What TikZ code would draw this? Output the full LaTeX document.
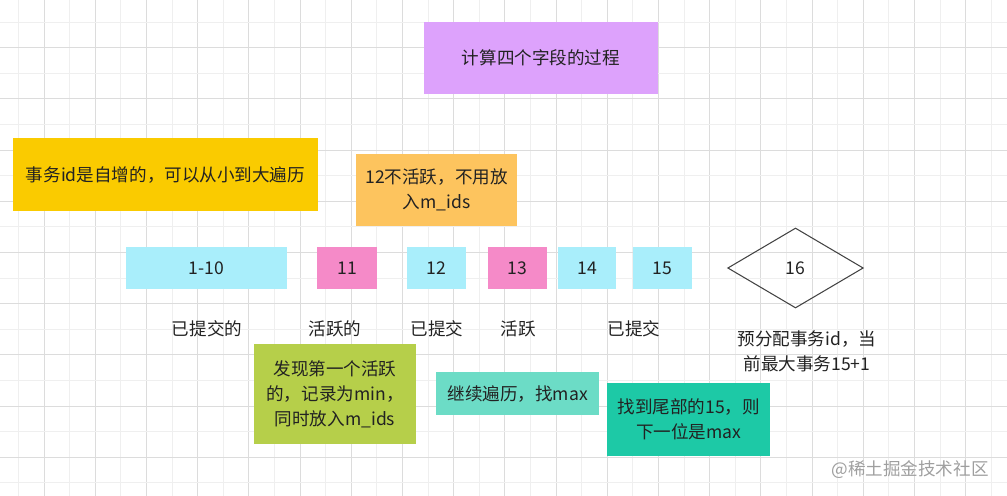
\documentclass[tikz,border=0pt]{standalone}
\usepackage{fontspec}
\setmainfont{Noto Sans CJK SC}
\usetikzlibrary{shapes.geometric}

% colours picked from the board
\definecolor{gridminor}{HTML}{EFEFEF}
\definecolor{gridmajor}{HTML}{DCDCDC}
\definecolor{titlepurple}{HTML}{DDA2FC}
\definecolor{noteyellow}{HTML}{FACB00}
\definecolor{noteorange}{HTML}{FDC45E}
\definecolor{donecyan}{HTML}{A9EEFB}
\definecolor{activepink}{HTML}{F58AC8}
\definecolor{noteolive}{HTML}{B6CF4A}
\definecolor{noteaqua}{HTML}{6CDCC6}
\definecolor{noteteal}{HTML}{1DC9A6}
\definecolor{inkgray}{HTML}{222222}

\begin{document}
\begin{tikzpicture}[x=0.02cm,y=-0.02cm,
  font=\fontsize{10}{14.2}\selectfont,
  card/.style n args={3}{fill=#1, text=inkgray, align=center, inner sep=0pt,
    minimum width=#2*0.02cm, minimum height=#3*0.02cm},
  status/.style={text=inkgray, inner sep=0pt}]

% Canvas in pixels of the board (1007 x 496), y runs downwards
\useasboundingbox (0,0) rectangle (1007,496);

% --- Background grid ---
\foreach \k in {0,...,19} {
  \draw[gridminor, line width=0.5pt] ({18.4+51.2*\k},0) -- ++(0,496);
}
\foreach \k in {0,...,18} {
  \draw[gridmajor, line width=0.5pt] ({44+51.2*\k},0) -- ++(0,496);
}
\foreach \k in {0,...,9} {
  \draw[gridminor, line width=0.5pt] (0,{22.1+51.2*\k}) -- ++(1007,0);
}
\foreach \k in {0,...,8} {
  \draw[gridmajor, line width=0.5pt] (0,{47.7+51.2*\k}) -- ++(1007,0);
}

% --- Title and notes above the row ---
\node[card={titlepurple}{234}{72}] (title) at (541,58) {计算四个字段的过程};
\node[card={noteyellow}{305.6}{72.7}] (noteOrder) at (165.5,174.7)
  {事务id是自增的，可以从小到大遍历};
\node[card={noteorange}{161}{72}] (noteSkip) at (436.5,190)
  {12不活跃，不用放\\入m\_ids};

% --- Transaction id row ---
\node[card={donecyan}{161.6}{42.3}] (id1to10) at (206.5,268) {1-10};
\node[card={activepink}{60}{42.3}] (id11) at (347,268) {11};
\node[card={donecyan}{59}{42.3}] (id12) at (436.5,268) {12};
\node[card={activepink}{59}{42.3}] (id13) at (517.5,268) {13};
\node[card={donecyan}{58}{42.3}] (id14) at (587,268) {14};
\node[card={donecyan}{59}{42.3}] (id15) at (662.5,268) {15};
\node[diamond, draw=inkgray!85, line width=0.6pt, text=inkgray, inner sep=0pt,
  minimum width=135.6*0.02cm, minimum height=80*0.02cm] (id16) at (795.5,268) {16};

% --- Status under each id ---
\node[status] (st1to10) at (207,329) {已提交的};
\node[status] (st11) at (335,329) {活跃的};
\node[status] (st12) at (437,329) {已提交};
\node[status] (st13) at (518,329) {活跃};
\node[status] (st15) at (634,329) {已提交};
\node[status, align=center] (st16) at (807,351) {预分配事务id，当\\前最大事务15+1};

% --- Notes below the row ---
\node[card={noteolive}{162}{99}] (noteMin) at (335,394)
  {发现第一个活跃\\的，记录为min，\\同时放入m\_ids};
\node[card={noteaqua}{163}{43}] (noteWalk) at (517.7,393.7) {继续遍历，找max};
\node[card={noteteal}{162.7}{72.4}] (noteMax) at (688.7,419.5)
  {找到尾部的15，则\\下一位是max};

% watermark
\node[text=gray!75, inner sep=0pt] (mark) at (910,470) {@稀土掘金技术社区};

\end{tikzpicture}
\end{document}
